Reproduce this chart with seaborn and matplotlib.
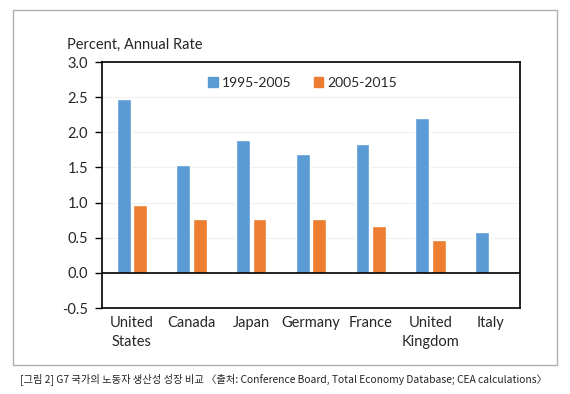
import matplotlib
matplotlib.use('Agg')
import matplotlib.pyplot as plt
import matplotlib.patches as mpatches
import seaborn as sns
import pandas as pd

countries = ['United\nStates', 'Canada', 'Japan', 'Germany', 'France', 'United\nKingdom', 'Italy']
growth_1995_2005 = [2.47, 1.53, 1.89, 1.69, 1.83, 2.20, 0.58]
growth_2005_2015 = [0.97, 0.77, 0.76, 0.76, 0.66, 0.47, -0.02]
periods = ['1995-2005', '2005-2015']
colors = ['#5B9BD5', '#ED7D31']

df = pd.DataFrame({
    'country': countries * 2,
    'value': growth_1995_2005 + growth_2005_2015,
    'period': [periods[0]] * len(countries) + [periods[1]] * len(countries),
})

sns.set_style('white')
plt.rcParams['font.family'] = ['Lato', 'DejaVu Sans']

fig = plt.figure(figsize=(5.7, 3.94), dpi=100)
ax = fig.add_axes([102 / 570, 1 - 308 / 394, 418 / 570, 246 / 394])

sns.barplot(data=df, x='country', y='value', hue='period', palette=colors,
            width=0.55, gap=0.15, saturation=1, ax=ax, legend=False)

ax.set_ylim(-0.5, 3.0)
ax.set_yticks([-0.5, 0.0, 0.5, 1.0, 1.5, 2.0, 2.5, 3.0])
ax.set_yticklabels([f'{v:.1f}' for v in ax.get_yticks()], fontsize=10.5)
for lbl in ax.get_xticklabels():
    lbl.set_linespacing(1.45)
ax.set_xlabel('')
ax.set_ylabel('')
ax.tick_params(axis='x', length=0, labelsize=10.5, pad=6)
ax.tick_params(axis='y', left=True, length=5, width=1, color='black', pad=5)
ax.yaxis.grid(True, color='#f0f0f0', lw=0.8)
ax.set_axisbelow(True)
ax.axhline(0, color='black', lw=1.2)
for s in ax.spines.values():
    s.set_color('black')
    s.set_linewidth(1.2)

handles = [mpatches.Patch(color=c, label=p) for c, p in zip(colors, periods)]
ax.legend(handles=handles, loc='upper center', ncol=2, frameon=False,
          fontsize=10, handlelength=0.7, handleheight=0.7, handletextpad=0.3,
          columnspacing=1.6, bbox_to_anchor=(0.48, 0.99))

fig.text(67 / 570, 1 - 45 / 394, 'Percent, Annual Rate', fontsize=10.5, va='center')

fig.patches.append(mpatches.Rectangle((13 / 570, 1 - 365 / 394), 544 / 570, 355 / 394,
                                      transform=fig.transFigure, fill=False,
                                      edgecolor='#b0b0b0', lw=1))

fig.text(20 / 570, 1 - 379 / 394,
         '[그림 2] G7 국가의 노동자 생산성 성장 비교 〈출처: Conference Board, Total Economy Database; CEA calculations〉',
         fontsize=7.4, va='center', color='#222222',
         family=['Noto Sans CJK KR', 'DejaVu Sans'])

fig.savefig('out.png', dpi=100)
